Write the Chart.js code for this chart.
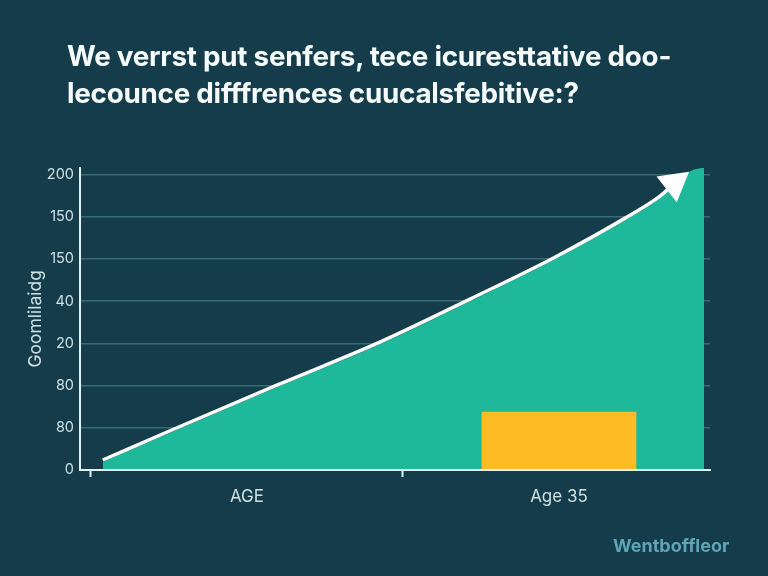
<!DOCTYPE html>
<html>
<head>
<meta charset="utf-8">
<style>
	html, body { margin: 0; padding: 0; background: #143c4b; }
	body { position: relative; width: 768px; height: 576px; overflow: hidden; font-family: Inter, sans-serif; }
	#chart { position: absolute; left: 0; top: 0; }
	#title { position: absolute; left: 67px; top: 38px; margin: 0; font-size: 27.8px; line-height: 37px; font-weight: 700; color: #f4fbfa; white-space: nowrap; letter-spacing: -0.25px; }
	#mark { position: absolute; left: 613px; top: 535px; font-size: 18px; font-weight: 700; color: #5fa5b5; white-space: nowrap; }
</style>
</head>
<body>
<canvas id="chart" width="768" height="576"></canvas>
<h1 id="title">We verrst put senfers, tece icuresttative doo-<br>lecounce difffrences cuucalsfebitive:?</h1>
<div id="mark">Wentboffleor</div>
<script src="https://cdn.jsdelivr.net/npm/chart.js@4"></script>
<script>
// y ticks are evenly spaced rows, the printed labels are not monotonic
const yTickValues = [0, 1, 2, 3, 4, 5, 6, 7];
const yTickLabels = ["0", "80", "80", "20", "40", "150", "150", "200"];
const xTickValues = [0, 0.5, 1, 1.5];
const xTickLabels = ["", "AGE", "", "Age 35"];
const yAxisTitle = "Goomlilaidg";

const lineX = [0.038, 0.263, 0.596, 0.926, 1.215, 1.481, 1.712, 1.824, 1.869];
const lineY = [0.237, 0.96, 2.01, 3.03, 4.05, 5.02, 5.97, 6.49, 6.79];
const areaX = [0.038, 0.263, 0.596, 0.926, 1.215, 1.481, 1.712, 1.824, 1.869, 1.92, 1.965];
const areaY = [0.19, 0.91, 1.96, 2.98, 4.0, 4.97, 5.92, 6.44, 6.74, 7.08, 7.17];
const barX = [1.5];
const barY = [1.37];

const toPoints = (xs, ys) => xs.map((x, i) => ({ x: x, y: ys[i] }));
const axisColor = "#dff3f1";
const tickColor = "#cfe0e0";

new Chart(document.getElementById("chart").getContext("2d"), {
	type: "line",
	data: {
		datasets: [
			{
				data: toPoints(lineX, lineY),
				order: 0,
				borderColor: "#ffffff",
				backgroundColor: "#ffffff",
				borderWidth: 3.5,
				cubicInterpolationMode: "monotone",
				fill: false,
				pointStyle: "triangle",
				pointBorderWidth: 0,
				pointRadius: (ctx) => (ctx.dataIndex === lineX.length - 1 ? 19 : 0),
				pointRotation: 52,
			},
			{
				type: "bar",
				data: toPoints(barX, barY),
				order: 1,
				backgroundColor: "#fdbb24",
				barThickness: 154,
			},
			{
				data: toPoints(areaX, areaY),
				order: 2,
				borderWidth: 0,
				backgroundColor: "#1eb89a",
				fill: "origin",
				cubicInterpolationMode: "monotone",
				pointRadius: 0,
			},
		],
	},
	options: {
		responsive: false,
		animation: false,
		layout: { padding: { top: 167.5, right: 58 } },
		plugins: {
			legend: { display: false },
			tooltip: { enabled: false },
		},
		scales: {
			x: {
				type: "linear",
				offset: false,
				min: -0.035,
				max: 1.984,
				afterBuildTicks: (axis) => {
					axis.ticks = xTickValues.map((value) => ({ value: value }));
				},
				afterFit: (axis) => {
					axis.height = 106;
				},
				border: { color: axisColor, width: 2, z: 1 },
				grid: {
					offset: false,
					drawOnChartArea: false,
					tickLength: 7,
					tickWidth: 2,
					tickColor: (ctx) => (ctx.tick && ctx.tick.value % 1 === 0 ? axisColor : "transparent"),
				},
				ticks: {
					autoSkip: false,
					maxRotation: 0,
					padding: 10,
					color: tickColor,
					font: { family: "Inter", size: 17 },
					callback: (value) => xTickLabels[xTickValues.indexOf(value)],
				},
			},
			y: {
				type: "linear",
				min: 0,
				max: 7.17,
				afterBuildTicks: (axis) => {
					axis.ticks = yTickValues.map((value) => ({ value: value }));
				},
				afterFit: (axis) => {
					axis.width = 80;
				},
				border: { color: axisColor, width: 2, z: 1 },
				grid: { color: "#3a6a72", lineWidth: 1.5, drawTicks: false },
				ticks: {
					autoSkip: false,
					padding: 6,
					color: tickColor,
					font: { family: "Inter", size: 14.5 },
					callback: (value) => yTickLabels[value],
				},
				title: {
					display: true,
					text: yAxisTitle,
					color: tickColor,
					font: { family: "Inter", size: 17.5 },
					padding: { top: 25, bottom: 0 },
				},
			},
		},
	},
});
</script>
</body>
</html>
